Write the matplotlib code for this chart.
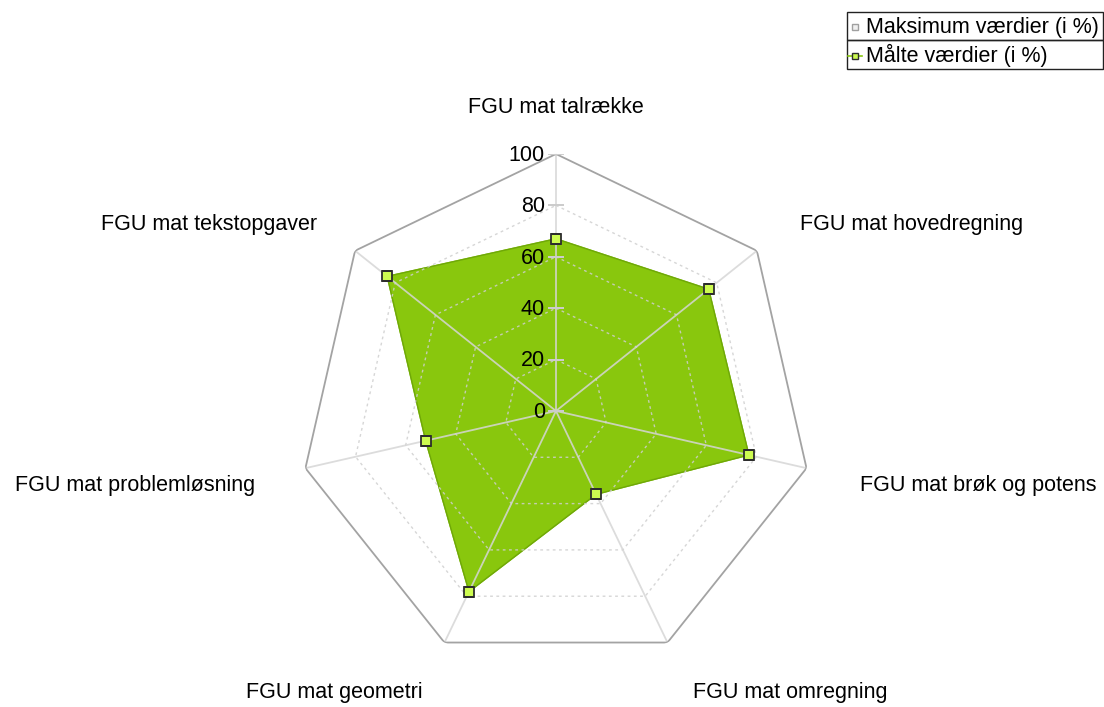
import numpy as np
import matplotlib
matplotlib.use("Agg")
from matplotlib import pyplot as plt
from matplotlib.lines import Line2D
from matplotlib.patches import Rectangle

plt.rcParams['font.family'] = ['Liberation Sans', 'DejaVu Sans']

categories = ['FGU mat talrække', 'FGU mat hovedregning', 'FGU mat brøk og potens',
              'FGU mat omregning', 'FGU mat geometri', 'FGU mat problemløsning',
              'FGU mat tekstopgaver']
max_values = [100, 100, 100, 100, 100, 100, 100]
measured = [67, 76, 77, 36, 78, 52, 84]
levels = [0, 20, 40, 60, 80, 100]
legend_labels = ['Maksimum værdier (i %)', 'Målte værdier (i %)']

green = '#89c70d'
green_edge = '#6fa808'
marker_face = '#cdfb50'

n = len(categories)
angles = np.arange(n) * 2 * np.pi / n
closed = np.append(angles, angles[0])

fig = plt.figure(figsize=(11.04, 7.07), dpi=100)
ax = fig.add_axes([0.2708, 0.0552, 0.4656, 0.727], projection='polar')
ax.set_theta_offset(np.pi / 2)
ax.set_theta_direction(-1)
ax.set_ylim(0, 100)
ax.set_axis_off()

# outer (max) polygon
ax.fill(closed, np.append(max_values, max_values[0]), color='white', zorder=1)

# measured area
ax.fill(closed, np.append(measured, measured[0]), color=green, zorder=2)
ax.plot(closed, np.append(measured, measured[0]), color=green_edge, lw=1, zorder=2)

# grid on top of fill
for lv in levels[1:-1]:
    ax.plot(closed, [lv] * (n + 1), color='#cfcfcf', lw=1, ls=(0, (2, 2.5)),
            alpha=0.85, zorder=3)
for a in angles:
    ax.plot([a, a], [0, 100], color='#d6d6d6', lw=1.3, alpha=0.85, zorder=3)
ax.plot(closed, np.append(max_values, max_values[0]), color='#a3a3a3', lw=1.3, zorder=4)

# tick marks and labels on top spoke
ax.plot(np.zeros(len(levels)), levels, ls='none', marker='_', ms=12, mew=1.2,
        color='#cccccc', zorder=5)
for lv in levels:
    ax.annotate(str(lv), xy=(0, lv), xytext=(-8, -1), textcoords='offset points',
                ha='right', va='center', fontsize=15.5, color='black', zorder=6)

# markers
ax.plot(angles, measured, ls='none', marker='s', ms=7, mfc=marker_face,
        mec='#2d2d2d', mew=1.3, zorder=7)

# category labels
label_pos = [(119, 'center', 0, -2), (119, 'left', 5, -4), (120, 'left', 3, -6),
             (120, 'left', 3, -4), (120, 'right', 0, -4), (120, 'right', 0, -6),
             (119, 'right', 0, -4)]
for a, lab, (r, ha, dx, dy) in zip(angles, categories, label_pos):
    ax.annotate(lab, xy=(a, r), xytext=(dx, dy), textcoords='offset pixels',
                ha=ha, va='center', fontsize=15.5, color='black', annotation_clip=False)

# legend drawn as two stacked rows
W, H = 1104, 707
rows = [(12, 40), (40, 69)]
faces = ['#f0f0f0', marker_face]
edges = ['#a0a0a0', '#2d2d2d']
for (y0, y1), lab, fc, ec, i in zip(rows, legend_labels, faces, edges, range(2)):
    fig.add_artist(Rectangle((847 / W, 1 - y1 / H), (1103 - 847) / W, (y1 - y0) / H,
                             transform=fig.transFigure, fill=False, ec='#222222', lw=1))
    ym = 1 - ((y0 + y1) / 2 + 1) / H
    if i == 1:
        fig.add_artist(Line2D([848 / W, 862 / W], [ym, ym], transform=fig.transFigure,
                              color=green, lw=1.2))
    fig.add_artist(Line2D([855 / W], [ym], transform=fig.transFigure, ls='none',
                          marker='s', ms=5, mfc=fc, mec=ec, mew=1))
    fig.text(866 / W, ym, lab, ha='left', va='center', fontsize=15.5, color='black')

fig.savefig('out.png', dpi=100)
